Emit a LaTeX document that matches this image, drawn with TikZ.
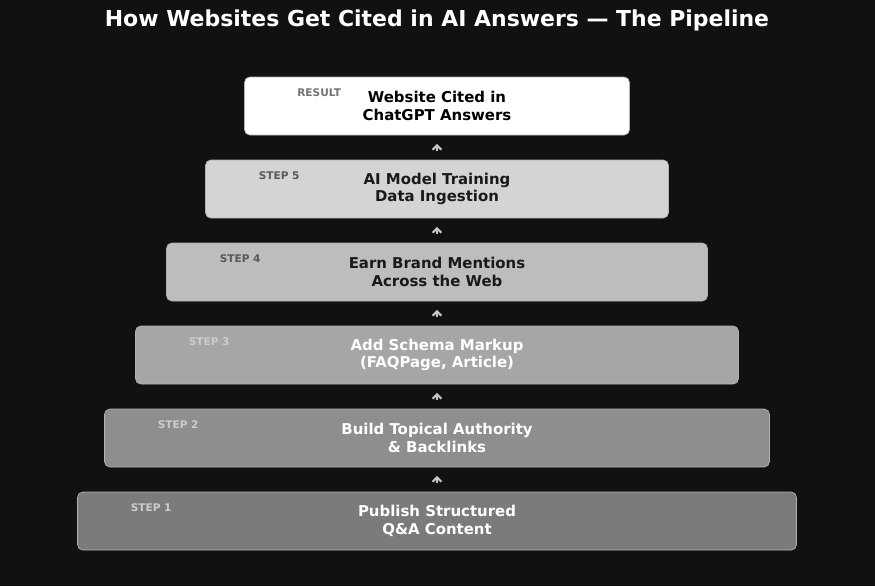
\documentclass[tikz,border=0pt]{standalone}
\usepackage{fontspec}
\setmainfont{DejaVu Sans}
\usetikzlibrary{arrows.meta, positioning}
\definecolor{bgdark}{HTML}{111111}
\definecolor{tierA}{HTML}{FFFFFF}
\definecolor{tierB}{HTML}{D4D4D4}
\definecolor{tierC}{HTML}{BDBDBD}
\definecolor{tierD}{HTML}{A6A6A6}
\definecolor{tierE}{HTML}{8E8E8E}
\definecolor{tierF}{HTML}{7B7B7B}
\tikzset{
    tier/.style={draw=gray!60, rounded corners=3pt, minimum height=1.16cm, align=center,
        font=\fontsize{8.5}{10}\selectfont\bfseries},
    steptag/.style={font=\fontsize{6}{7}\selectfont\bfseries, anchor=center},
    upar/.style={-{Straight Barb[length=2.5pt, width=5pt]}, line width=1.2pt, draw=gray!45,
        shorten <=0.17cm, shorten >=0.17cm}
}
\begin{document}
\begin{tikzpicture}[x=0.02cm, y=-0.02cm]
    \fill[bgdark] (0,0) rectangle (875,586);
    \useasboundingbox (0,0) rectangle (875,586);
    \node[text=white, font=\fontsize{12.5}{14}\selectfont\bfseries] (title) at (437,20)
        {How Websites Get Cited in AI Answers — The Pipeline};
    % tiers, bottom to top
    \node[tier, fill=tierF, text=white, minimum width=14.38cm] (s1) at (437,521) {Publish Structured\\Q\&A Content};
    \node[tier, fill=tierE, text=white, minimum width=13.3cm] (s2) at (437,438) {Build Topical Authority\\\& Backlinks};
    \node[tier, fill=tierD, text=white, minimum width=12.06cm] (s3) at (437,355) {Add Schema Markup\\(FAQPage, Article)};
    \node[tier, fill=tierC, text=black!90, minimum width=10.82cm] (s4) at (437,272) {Earn Brand Mentions\\Across the Web};
    \node[tier, fill=tierB, text=black!90, minimum width=9.26cm] (s5) at (437,189) {AI Model Training\\Data Ingestion};
    \node[tier, fill=tierA, text=black, minimum width=7.7cm] (res) at (437,106) {Website Cited in\\ChatGPT Answers};
    % step tags
    \node[steptag, text=gray!40] at ([xshift=1.48cm, yshift=-0.32cm]s1.north west) {STEP 1};
    \node[steptag, text=gray!40] at ([xshift=1.48cm, yshift=-0.32cm]s2.north west) {STEP 2};
    \node[steptag, text=gray!40] at ([xshift=1.48cm, yshift=-0.32cm]s3.north west) {STEP 3};
    \node[steptag, text=black!65] at ([xshift=1.48cm, yshift=-0.32cm]s4.north west) {STEP 4};
    \node[steptag, text=black!65] at ([xshift=1.48cm, yshift=-0.32cm]s5.north west) {STEP 5};
    \node[steptag, text=black!55] at ([xshift=1.5cm, yshift=-0.32cm]res.north west) {RESULT};
    % arrows
    \draw[upar] (s1.north) -- (s2.south);
    \draw[upar] (s2.north) -- (s3.south);
    \draw[upar] (s3.north) -- (s4.south);
    \draw[upar] (s4.north) -- (s5.south);
    \draw[upar] (s5.north) -- (res.south);
\end{tikzpicture}
\end{document}
